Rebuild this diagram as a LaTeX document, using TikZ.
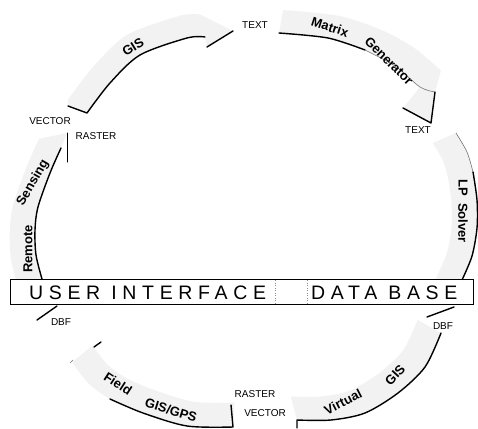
\documentclass[tikz,border=0pt]{standalone}
\usepackage{fontspec}
\setmainfont{Liberation Sans}
\usetikzlibrary{calc}
\begin{document}
\begin{tikzpicture}[x=1pt,y=-1pt,
  band/.style={fill=black!5},
  edge/.style={line width=1.4pt,line cap=round,line join=round},
  thinedge/.style={line width=0.6pt,black!55,line cap=round},
  lbl/.style={font=\bfseries\fontsize{13}{13}\selectfont,inner sep=0pt},
  tag/.style={font=\fontsize{10}{10}\selectfont,inner sep=0pt},
  bar/.style={draw,line width=0.8pt,fill=white,minimum width=463pt,minimum height=24.5pt,inner sep=0pt},
  bartext/.style={font={\fontsize{19.5}{20}\selectfont\addfontfeature{LetterSpace=29}},inner sep=0pt,anchor=base west},
  divider/.style={black!45,line width=0.5pt,dotted}
]
\useasboundingbox (0,0) rectangle (478,428);
\coordinate (C) at (245,224);

% ---------- GIS (upper left, shadow on inner edge)
\coordinate (g1) at (87,113);  \coordinate (g2) at (110,83);
\coordinate (g3) at (140,55);  \coordinate (g4) at (187,38);
\coordinate (g5) at (205,37);
\coordinate (gb) at (207,47);  \coordinate (gt) at (233,31);
\coordinate (gtail) at (68,106);
\foreach \p in {g1,g2,g3,g4,g5} {\coordinate (o\p) at ($(C)!1.12!(\p)$);}
\fill[band] plot[smooth] coordinates {(g1)(g2)(g3)(g4)(g5)} -- (gb) -- (gt)
  -- plot[smooth] coordinates {(og5)(og4)(og3)(og2)(og1)} -- (gtail) -- cycle;
\draw[edge] (gtail) -- plot[smooth] coordinates {(g1)(g2)(g3)(g4)(g5)};
\draw[edge] (gb) -- (gt);

% ---------- Matrix Generator (top right)
\coordinate (m1) at (279,33);  \coordinate (m2) at (328,38);
\coordinate (m3) at (365,50);  \coordinate (m4) at (395,66);
\coordinate (m5) at (420,87);
\coordinate (mb) at (403,108); \coordinate (mt) at (431,123);
\coordinate (mo) at (435,92);
\foreach \p in {m1,m2,m3,m4,m5} {\coordinate (o\p) at ($(C)!1.12!(\p)$);}
\fill[band] plot[smooth] coordinates {(m1)(m2)(m3)(m4)(m5)} -- (mb) -- (mt) -- (mo)
  -- plot[smooth] coordinates {(om5)(om4)(om3)(om2)(om1)} -- cycle;
\draw[edge] plot[smooth] coordinates {(m1)(m2)(m3)};
\draw[thinedge] plot[smooth] coordinates {(m3)(m4)(m5)(mo)};
\draw[edge] (mb) -- (mt) -- (mo);

% ---------- LP Solver (right, shadow on outer edge)
\coordinate (l0) at (456,133); \coordinate (la) at (467,152);
\coordinate (l1) at (473,172); \coordinate (l2) at (477,200);
\coordinate (l3) at (477,228); \coordinate (l4) at (472,256);
\coordinate (l5) at (462,280); \coordinate (l6) at (454,295);
\foreach \p in {l0,la,l1,l2,l3,l4,l5,l6} {\coordinate (i\p) at ($(C)!0.89!(\p)$);}
\fill[band] plot[smooth] coordinates {(l0)(la)(l1)(l2)(l3)(l4)(l5)(l6)}
  -- plot[smooth] coordinates {(il6)(il5)(il4)(il3)(il2)(il1)(ila)(il0)} -- cycle;
\draw[thinedge] plot[smooth] coordinates {(l0)(la)(l1)};
\draw[edge] plot[smooth] coordinates {(l1)(l2)(l3)(l4)(l5)};

% ---------- Virtual GIS (lower right)
\coordinate (v1) at (441,333); \coordinate (v2) at (425,367);
\coordinate (v3) at (398,393); \coordinate (v4) at (365,413);
\coordinate (v5) at (331,420); \coordinate (v6) at (297,420);
\coordinate (vc) at (297,428);
\foreach \p in {v1,v2,v3,v4,v5,v6} {\coordinate (i\p) at ($(C)!0.88!(\p)$);}
\fill[band] plot[smooth] coordinates {(v1)(v2)(v3)(v4)(v5)(v6)}
  -- plot[smooth] coordinates {(iv6)(iv5)(iv4)(iv3)(iv2)(iv1)} -- cycle;
\draw[edge] plot[smooth] coordinates {(v1)(v2)(v3)(v4)(v5)(v6)} -- (vc);

% ---------- Field GIS/GPS (lower left)
\coordinate (f0) at (72,362);  \coordinate (fa) at (88,383);
\coordinate (f1) at (110,399); \coordinate (f2) at (143,413);
\coordinate (f3) at (187,426); \coordinate (f4) at (233,427);
\coordinate (fe) at (231,405);
\coordinate (ft1) at (94,347); \coordinate (ft2) at (101,342);
\coordinate (fm1) at (70,363); \coordinate (fm2) at (73,360);
\foreach \p in {f0,fa,f1,f2,f3,f4} {\coordinate (i\p) at ($(C)!0.88!(\p)$);}
\fill[band] plot[smooth] coordinates {(f0)(fa)(f1)(f2)(f3)(f4)}
  -- plot[smooth] coordinates {(if4)(if3)(if2)(if1)(ifa)(if0)} -- cycle;
\draw[edge] plot[smooth] coordinates {(f1)(f2)(f3)(f4)} -- (fe);
\draw[edge] (ft1) -- (ft2);
\draw[thinedge] (fm1) -- (fm2);

% ---------- Remote Sensing (left, shadow on inner edge)
\coordinate (r0) at (45,294);  \coordinate (r1) at (42,279);
\coordinate (r2) at (36,255);  \coordinate (r3) at (35,230);
\coordinate (r4) at (38,207);  \coordinate (r5) at (50,173);
\coordinate (r6) at (61,148);
\coordinate (rt) at (67,133);  \coordinate (rb) at (67,162);
\foreach \p in {r0,r1,r2,r3,r4,r5,r6} {\coordinate (o\p) at ($(C)!1.12!(\p)$);}
\fill[band] plot[smooth] coordinates {(r0)(r1)(r2)(r3)(r4)(r5)(r6)} -- (rt)
  -- plot[smooth] coordinates {(or6)(or5)(or4)(or3)(or2)(or1)(or0)} -- cycle;
\draw[edge] plot[smooth] coordinates {(r1)(r2)(r3)(r4)(r5)(r6)};
\draw[edge,line width=1pt] (rt) -- (rb);

% ---------- DBF ticks under the bar
\coordinate (dl1) at (37,320); \coordinate (dl2) at (57,306);
\coordinate (dr1) at (427,317); \coordinate (dr2) at (454,307);
\draw[edge] (dl1) -- (dl2);
\draw[edge] (dr1) -- (dr2);

% ---------- central bar
\node[bar] (bar) at (241.5,291.75) {};
\draw[divider] (275,280) -- (275,303.5);
\draw[divider] (307,280) -- (307,303.5);
\node[bartext] (ui) at (29,299) {USER INTERFACE};
\node[bartext] (db) at (311,299) {DATA BASE};

% ---------- labels on the bands
\node[lbl,rotate=32]  (tGIS)  at (133,47)  {GIS};
\node[lbl,rotate=-18] (tMat)  at (330,27)  {Matrix};
\node[lbl,rotate=-45] (tGen)  at (389,61)  {Generator};
\node[lbl,rotate=-90] (tLP)   at (463,188) {LP};
\node[lbl,rotate=-90] (tSol)  at (463,223) {Solver};
\node[lbl,rotate=27]  (tVir)  at (343,402) {Virtual};
\node[lbl,rotate=47]  (tVG)   at (395,375) {GIS};
\node[lbl,rotate=-33] (tFld)  at (118,384) {Field};
\node[lbl,rotate=-17] (tGPS)  at (171,410) {GIS/GPS};
\node[lbl,rotate=90]  (tRem)  at (28,249)  {Remote};
\node[lbl,rotate=60]  (tSen)  at (33,183)  {Sensing};

% ---------- data format tags
\node[tag] (x1) at (255,25)  {TEXT};
\node[tag] (x2) at (418,130) {TEXT};
\node[tag] (x3) at (50,121)  {VECTOR};
\node[tag] (x4) at (96,136)  {RASTER};
\node[tag] (x5) at (255,394) {RASTER};
\node[tag] (x6) at (265,413) {VECTOR};
\node[tag] (x7) at (61,322)  {DBF};
\node[tag] (x8) at (443,326) {DBF};
\end{tikzpicture}
\end{document}
